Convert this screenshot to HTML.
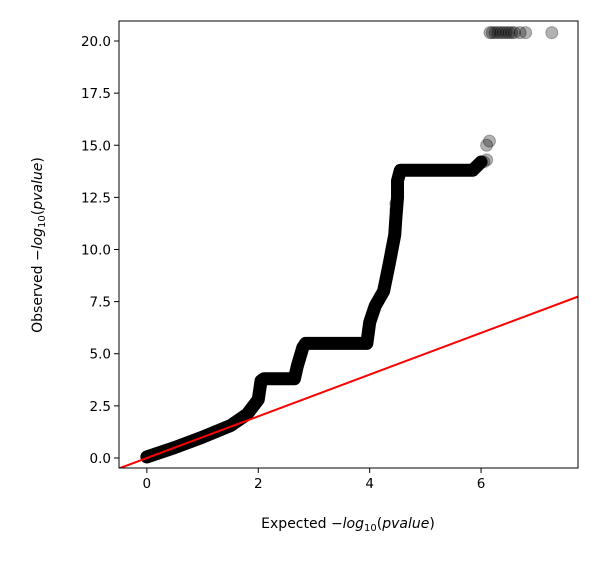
<!DOCTYPE html>
<html><head><meta charset="utf-8"><style>
body{margin:0;background:#fff}
text{font-family:"DejaVu Sans","Liberation Sans",sans-serif;fill:#000}
</style></head><body>
<svg id="chart" width="600" height="562" viewBox="0 0 600 562">
<rect width="600" height="562" fill="#fff"/>
<g id="marks"></g>
<g id="axes"></g>
</svg>
<script>
const bandX=[0,0.5,1,1.5,1.8,2.0,2.05,2.1,2.65,2.7,2.8,2.85,3.95,4.0,4.1,4.25,4.35,4.4,4.45,4.47,4.5,4.5,4.55,5.85,6.0];
const bandY=[0.05,0.5,1.0,1.55,2.1,2.8,3.7,3.8,3.8,4.4,5.3,5.5,5.5,6.5,7.3,8.0,9.3,10.0,10.7,11.5,12.5,13.3,13.8,13.8,14.2];
const sparseX=[4.47,4.47,6.05,6.1,6.1,6.15,6.16,6.2,6.25,6.3,6.35,6.4,6.45,6.5,6.55,6.6,6.7,6.8,7.27];
const sparseY=[12.2,11.9,14.2,14.3,15.0,15.2,20.4,20.4,20.4,20.4,20.4,20.4,20.4,20.4,20.4,20.4,20.4,20.4,20.4];
const xTicks=[0,2,4,6];
const yTicks=[0,2.5,5,7.5,10,12.5,15,17.5,20];
const xMin=-0.5,xMax=7.74,yMin=-0.48,yMax=20.96;
const L=119,R=578,T=21,B=468;
const sx=v=>L+(v-xMin)/(xMax-xMin)*(R-L);
const sy=v=>B-(v-yMin)/(yMax-yMin)*(B-T);
const NS='http://www.w3.org/2000/svg';
const marks=document.getElementById('marks'),axes=document.getElementById('axes');
function mk(tag,attrs,parent){const e=document.createElementNS(NS,tag);for(const k in attrs)e.setAttribute(k,attrs[k]);parent.appendChild(e);return e;}
const clip=mk('clipPath',{id:'pc'},marks);mk('rect',{x:L,y:T,width:R-L,height:B-T},clip);
const g=mk('g',{'clip-path':'url(#pc)'},marks);
let d='';bandX.forEach((x,i)=>{d+=(i?'L':'M')+sx(x)+' '+sy(bandY[i]);});
const band=mk('path',{d:d,fill:'none',stroke:'#000','stroke-width':13,'stroke-linecap':'round','stroke-linejoin':'round'},g);


sparseX.forEach((x,i)=>{
 const c=mk('circle',{cx:sx(x),cy:sy(sparseY[i]),r:6,fill:'rgba(0,0,0,0.3)',stroke:'rgba(0,0,0,0.3)','stroke-width':1},g);
 
 
});
const ln=mk('line',{x1:sx(xMin),y1:sy(xMin),x2:sx(xMax),y2:sy(xMax),stroke:'#ff0000','stroke-width':2},g);


const fr=mk('rect',{x:L,y:T,width:R-L,height:B-T,fill:'none',stroke:'#000','stroke-width':1},axes);


xTicks.forEach(v=>{
 mk('line',{x1:sx(v),x2:sx(v),y1:B,y2:B+5,stroke:'#000'},axes);
 const t=mk('text',{x:sx(v),y:B+20,'text-anchor':'middle','font-size':13.5},axes);t.textContent=v;
 
 
});
yTicks.forEach(v=>{
 mk('line',{x1:L-5,x2:L,y1:sy(v),y2:sy(v),stroke:'#000'},axes);
 const t=mk('text',{x:L-8,y:sy(v)+5,'text-anchor':'end','font-size':13.5},axes);t.textContent=v.toFixed(1);
 
 
});
</script>
<svg style="position:absolute;left:0;top:0" width="600" height="562">
<text x="348" y="528" text-anchor="middle" font-size="14">Expected −<tspan font-style="italic">log</tspan><tspan font-size="10" dy="3">10</tspan><tspan dy="-3">(</tspan><tspan font-style="italic">pvalue</tspan>)</text>
<text transform="translate(42,245) rotate(-90)" text-anchor="middle" font-size="14">Observed −<tspan font-style="italic">log</tspan><tspan font-size="10" dy="3">10</tspan><tspan dy="-3">(</tspan><tspan font-style="italic">pvalue</tspan>)</text>
</svg>
</body></html>
